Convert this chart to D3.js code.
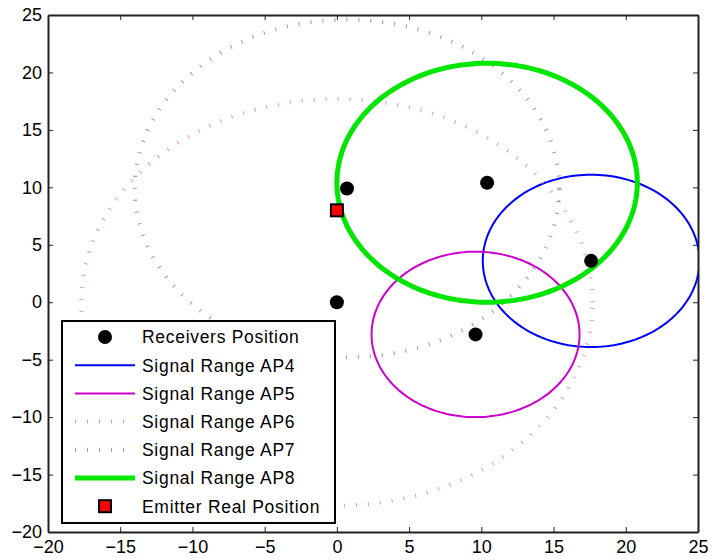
<!DOCTYPE html>
<meta charset="utf-8">
<style>
body { margin: 0; background: #fff; }
text { font-family: "Liberation Sans", Arial, sans-serif; }
.tick text { font-size: 18px; fill: #000; }
</style>
<body>
<svg width="713" height="560"></svg>
<script src="https://d3js.org/d3.v7.min.js"></script>
<script>

// receivers (black dots)
var receiversX = [0.7, 10.4, 17.6, 0.0, 9.6];
var receiversY = [9.9, 10.4, 3.6, 0.0, -2.8];

// emitter real position
var emitterX = [0];
var emitterY = [8];

// signal ranges: centre + radius
var rangeNames = ["Signal Range AP4", "Signal Range AP5", "Signal Range AP6", "Signal Range AP7", "Signal Range AP8"];
var rangeCx = [17.6, 9.6, 0.0, 0.7, 10.4];
var rangeCy = [3.6, -2.8, 0.0, 9.9, 10.4];
var rangeR = [7.5, 7.2, 17.7, 14.7, 10.4];

var xTicks = [-20, -15, -10, -5, 0, 5, 10, 15, 20, 25];
var yTicks = [-20, -15, -10, -5, 0, 5, 10, 15, 20, 25];

var styles = [
  {stroke: "#0000ff", width: 2, dash: null, op: 1},
  {stroke: "#cc00cc", width: 2, dash: null, op: 1},
  {stroke: "#d87a86", width: 4, dash: "1 11", op: 0.75},
  {stroke: "#777777", width: 4, dash: "1 11", op: 0.75},
  {stroke: "#00e600", width: 5, dash: null, op: 1}
];

var svg = d3.select("svg"),
    margin = {top: 15, right: 15, bottom: 28, left: 48},
    width = 713 - margin.left - margin.right,
    height = 560 - margin.top - margin.bottom;

var g = svg.append("g")
    .attr("transform", "translate(" + margin.left + "," + margin.top + ")");

var x = d3.scaleLinear().domain([-20, 25]).range([0, width]);
var y = d3.scaleLinear().domain([-20, 25]).range([height, 0]);

// axes (ticks inside, mirrored on top/right)
g.append("g")
    .attr("transform", "translate(0," + height + ")")
    .call(d3.axisBottom(x).tickValues(xTicks).tickSizeInner(-5).tickSizeOuter(0).tickPadding(8));
g.append("g")
    .call(d3.axisLeft(y).tickValues(yTicks).tickSizeInner(-5).tickSizeOuter(0).tickPadding(6));
g.append("g")
    .call(d3.axisTop(x).tickValues(xTicks).tickSizeInner(-5).tickSizeOuter(0).tickFormat(""));
g.append("g")
    .attr("transform", "translate(" + width + ",0)")
    .call(d3.axisRight(y).tickValues(yTicks).tickSizeInner(-5).tickSizeOuter(0).tickFormat(""));
g.selectAll(".domain").attr("stroke", "#222").attr("stroke-width", 2);
g.selectAll(".tick line").attr("stroke", "#222");

g.append("defs").append("clipPath").attr("id", "clip")
  .append("rect").attr("width", width).attr("height", height);

var plot = g.append("g").attr("clip-path", "url(#clip)");

// circles, drawn in data space
var angles = d3.range(0, 361, 2);
var circleLine = d3.line()
    .x(function(d) { return x(d.x); })
    .y(function(d) { return y(d.y); });

rangeNames.forEach(function(name, i) {
  var pts = angles.map(function(a) {
    var t = a * Math.PI / 180;
    return {x: rangeCx[i] + rangeR[i] * Math.cos(t), y: rangeCy[i] + rangeR[i] * Math.sin(t)};
  });
  plot.append("path")
      .datum(pts)
      .attr("d", circleLine)
      .attr("fill", "none")
      .attr("stroke", styles[i].stroke)
      .attr("stroke-width", styles[i].width)
      .attr("stroke-dasharray", styles[i].dash)
      .attr("stroke-opacity", styles[i].op);
});

// receivers
plot.selectAll(".rx")
    .data(receiversX)
  .enter().append("circle")
    .attr("class", "rx")
    .attr("cx", function(d) { return x(d); })
    .attr("cy", function(d, i) { return y(receiversY[i]); })
    .attr("r", 7)
    .attr("fill", "#000");

// emitter
plot.selectAll(".em")
    .data(emitterX)
  .enter().append("rect")
    .attr("class", "em")
    .attr("x", function(d) { return x(d) - 6; })
    .attr("y", function(d, i) { return y(emitterY[i]) - 6; })
    .attr("width", 12)
    .attr("height", 12)
    .attr("fill", "#ff0000")
    .attr("stroke", "#000")
    .attr("stroke-width", 2);

// legend
var legend = svg.append("g").attr("transform", "translate(62,321)");
legend.append("rect")
    .attr("width", 273)
    .attr("height", 202)
    .attr("fill", "#fff")
    .attr("stroke", "#000")
    .attr("stroke-width", 2);

var labels = ["Receivers Position"].concat(rangeNames).concat(["Emitter Real Position"]);
labels.forEach(function(lab, i) {
  var yy = 16 + i * 28.2;
  if (i === 0) {
    legend.append("circle").attr("cx", 43).attr("cy", yy).attr("r", 7).attr("fill", "#000");
  } else if (i === 6) {
    legend.append("rect").attr("x", 37).attr("y", yy - 6).attr("width", 12).attr("height", 12)
        .attr("fill", "#ff0000").attr("stroke", "#000").attr("stroke-width", 2);
  } else {
    var s = styles[i - 1];
    legend.append("line")
        .attr("x1", 13).attr("x2", 73).attr("y1", yy).attr("y2", yy)
        .attr("stroke", s.stroke)
        .attr("stroke-width", s.width)
        .attr("stroke-dasharray", s.dash)
        .attr("stroke-opacity", s.op);
  }
  legend.append("text")
      .attr("x", 80)
      .attr("y", yy)
      .attr("dy", "0.36em")
      .attr("font-size", "17.5px")
      .attr("letter-spacing", "0.7px")
      .text(lab);
});

</script>
</body>
